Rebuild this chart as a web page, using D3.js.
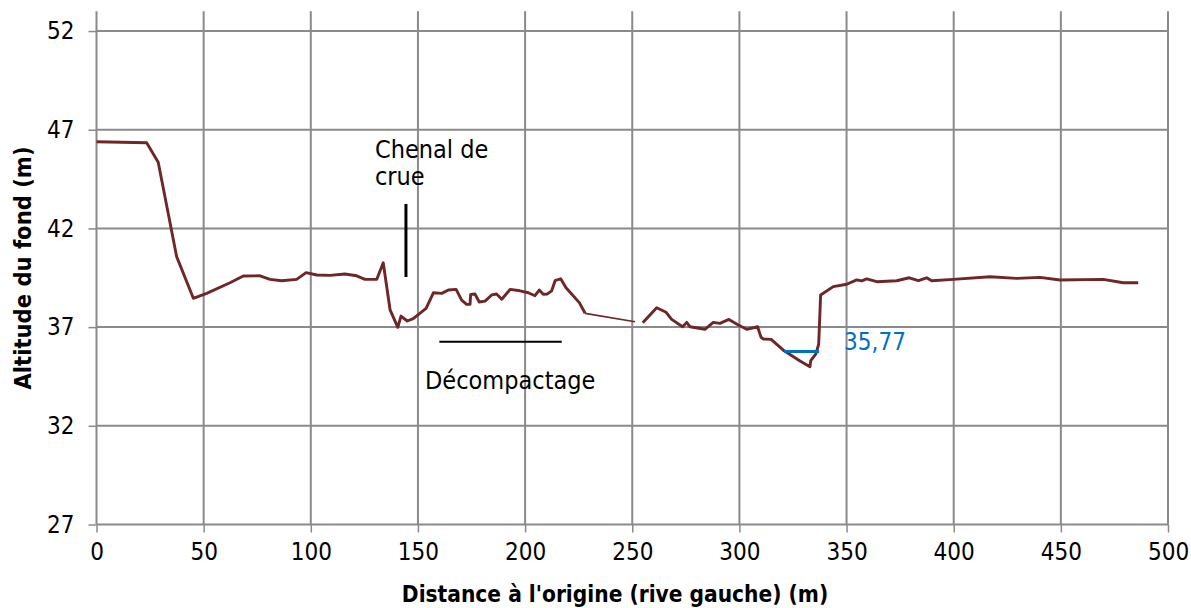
<!DOCTYPE html>
<html>
<head>
<meta charset="utf-8">
<script src="https://cdn.jsdelivr.net/npm/d3@7/dist/d3.min.js"></script>
<style>
  html, body { margin: 0; padding: 0; background: #fff; }
  svg text { font-family: "DejaVu Sans Condensed", "DejaVu Sans", sans-serif; font-stretch: condensed; }
</style>
</head>
<body>
<svg id="chart" width="1191" height="608"></svg>
<script>
// Profil en travers : distance à l'origine (m) et altitude du fond (m)
const distGauche = [0, 23.4, 28.8, 37.4, 45.2, 51.4, 62.3, 68.5, 76.3, 81, 86.4, 93.4, 97.8, 102.8, 109, 115.9, 121.4, 125.3, 130.8,
  133.8, 137, 140.6, 142.1, 145, 147.8, 153.8, 157.2, 161.1, 164.2, 167.8, 170.4, 172.7, 174.3, 174.6, 176.6, 178.6, 181.3,
  184.4, 186.7, 189.1, 193, 197.6, 201.5, 204.6, 206.6, 208.5, 210.4, 212.4, 214, 216.6, 219.1, 221.7, 225.3, 228];
const altGauche = [46.39, 46.34, 45.35, 40.57, 38.46, 38.71, 39.25, 39.59, 39.60, 39.42, 39.35, 39.42, 39.76, 39.64, 39.62, 39.69, 39.60, 39.42, 39.42,
  40.26, 37.87, 36.99, 37.56, 37.31, 37.43, 37.95, 38.74, 38.71, 38.88, 38.91, 38.37, 38.15, 38.15, 38.66, 38.68, 38.27, 38.32,
  38.63, 38.68, 38.41, 38.91, 38.84, 38.74, 38.59, 38.88, 38.66, 38.68, 38.84, 39.35, 39.45, 38.99, 38.68, 38.24, 37.70];

// Liaison entre les deux parties du levé
const distLiaison = [228, 251.3];
const altLiaison = [37.70, 37.27];

const distDroite = [254.9, 261.4, 265.8, 268.4, 273.5, 275.4, 276.9, 283.9, 287.8, 290.9, 295.1, 299.5, 303.4, 308.5, 310.1, 311.2, 314.8,
  320.9, 328.3, 332.9, 333.3, 335.7, 337, 337.9, 343.8, 350.1, 354.7, 357.1, 359.4, 364.1, 373.4, 379.3, 383.5, 387.4, 389.7,
  399.8, 416.9, 429.4, 440.3, 449.6, 469.8, 479.1, 486.1];
const altDroite = [37.22, 37.98, 37.75, 37.39, 37.02, 37.24, 37.02, 36.89, 37.24, 37.19, 37.39, 37.11, 36.89, 37.02, 36.48, 36.40, 36.38,
  35.80, 35.28, 34.99, 35.30, 35.64, 36.14, 38.63, 39.05, 39.17, 39.39, 39.34, 39.44, 39.30, 39.35, 39.50, 39.35, 39.50, 39.35,
  39.42, 39.55, 39.47, 39.52, 39.39, 39.42, 39.25, 39.25];

// Niveau d'eau
const niveauDist = [320.9, 337.2];
const niveauAlt = 35.77;

// Repères des zones de travaux
const chenalDist = 144.4;
const chenalAlt = [43.24, 39.54];
const decompactDist = [160, 217.1];
const decompactAlt = 36.26;

const xTicks = [0, 50, 100, 150, 200, 250, 300, 350, 400, 450, 500];
const yTicks = [27, 32, 37, 42, 47, 52];

const svg = d3.select("#chart");
const plotLeft = 96.5, plotRight = 1168, plotTop = 11.3, plotBottom = 524.5;

const x = d3.scaleLinear().domain([0, 500]).range([plotLeft, plotRight]);
const y = d3.scaleLinear().domain([27, 53]).range([plotBottom, plotTop]);

const gridColor = "#8a8a8a";
const fontStack = '"DejaVu Sans Condensed", "DejaVu Sans", sans-serif';

// Quadrillage
svg.append("g").selectAll("line").data(xTicks.slice(1)).join("line")
  .attr("x1", d => x(d)).attr("x2", d => x(d))
  .attr("y1", plotTop).attr("y2", plotBottom)
  .attr("stroke", gridColor).attr("stroke-width", 2);
svg.append("g").selectAll("line").data(yTicks.slice(1)).join("line")
  .attr("x1", plotLeft).attr("x2", plotRight)
  .attr("y1", d => y(d)).attr("y2", d => y(d))
  .attr("stroke", gridColor).attr("stroke-width", 2);

// Axes
const xAxis = d3.axisBottom(x).tickValues(xTicks).tickSize(8).tickPadding(10).tickFormat(d3.format("d"));
const gx = svg.append("g").attr("transform", `translate(0,${plotBottom})`).call(xAxis);
gx.select(".domain").attr("stroke", gridColor).attr("stroke-width", 2).attr("d", `M${plotLeft},0H${plotRight}`);
gx.selectAll(".tick line").attr("stroke", gridColor).attr("stroke-width", 1.5);
gx.selectAll(".tick text").attr("font-size", 24).attr("fill", "#000").attr("font-family", fontStack);

const yAxis = d3.axisLeft(y).tickValues(yTicks).tickSize(8).tickPadding(14).tickFormat(d3.format("d"));
const gy = svg.append("g").attr("transform", `translate(${plotLeft},0)`).call(yAxis);
gy.select(".domain").attr("stroke", gridColor).attr("stroke-width", 2).attr("d", `M0,${plotTop}V${plotBottom}`);
gy.selectAll(".tick line").attr("stroke", gridColor).attr("stroke-width", 1.5);
gy.selectAll(".tick text").attr("font-size", 24).attr("fill", "#000").attr("font-family", fontStack);

// Titres des axes
svg.append("text")
  .attr("x", 615).attr("y", 602)
  .attr("text-anchor", "middle").attr("font-size", 22.5).attr("font-weight", "bold")
  .text("Distance à l'origine (rive gauche) (m)");
svg.append("text")
  .attr("transform", "translate(31,268) rotate(-90)")
  .attr("text-anchor", "middle").attr("font-size", 23.5).attr("font-weight", "bold")
  .text("Altitude du fond (m)");

// Profil du fond
const line = d3.line().x(d => x(d[0])).y(d => y(d[1]));
const profColor = "#6e2626";
svg.append("path").datum(d3.zip(distGauche, altGauche)).attr("d", line)
  .attr("fill", "none").attr("stroke", profColor).attr("stroke-width", 2.9).attr("stroke-linejoin", "round");
svg.append("path").datum(d3.zip(distLiaison, altLiaison)).attr("d", line)
  .attr("fill", "none").attr("stroke", profColor).attr("stroke-width", 1.7);
svg.append("path").datum(d3.zip(distDroite, altDroite)).attr("d", line)
  .attr("fill", "none").attr("stroke", profColor).attr("stroke-width", 2.9).attr("stroke-linejoin", "round");

// Niveau d'eau et étiquette
svg.append("line")
  .attr("x1", x(niveauDist[0])).attr("x2", x(niveauDist[1]))
  .attr("y1", y(niveauAlt)).attr("y2", y(niveauAlt))
  .attr("stroke", "#0070c0").attr("stroke-width", 3);
svg.append("text")
  .attr("x", x(niveauDist[1]) + 25).attr("y", y(niveauAlt) - 1)
  .attr("font-size", 24).attr("fill", "#0070c0")
  .text(String(niveauAlt).replace(".", ","));

// Chenal de crue
svg.append("line")
  .attr("x1", x(chenalDist)).attr("x2", x(chenalDist))
  .attr("y1", y(chenalAlt[0])).attr("y2", y(chenalAlt[1]))
  .attr("stroke", "#000").attr("stroke-width", 3);
const chenal = svg.append("text").attr("font-size", 25).attr("fill", "#000");
chenal.append("tspan").attr("x", 375).attr("y", 158).text("Chenal de");
chenal.append("tspan").attr("x", 375).attr("y", 185).text("crue");

// Décompactage
svg.append("line")
  .attr("x1", x(decompactDist[0])).attr("x2", x(decompactDist[1]))
  .attr("y1", y(decompactAlt)).attr("y2", y(decompactAlt))
  .attr("stroke", "#000").attr("stroke-width", 2);
svg.append("text")
  .attr("x", 425).attr("y", 389)
  .attr("font-size", 25).attr("fill", "#000")
  .text("Décompactage");
</script>
</body>
</html>
